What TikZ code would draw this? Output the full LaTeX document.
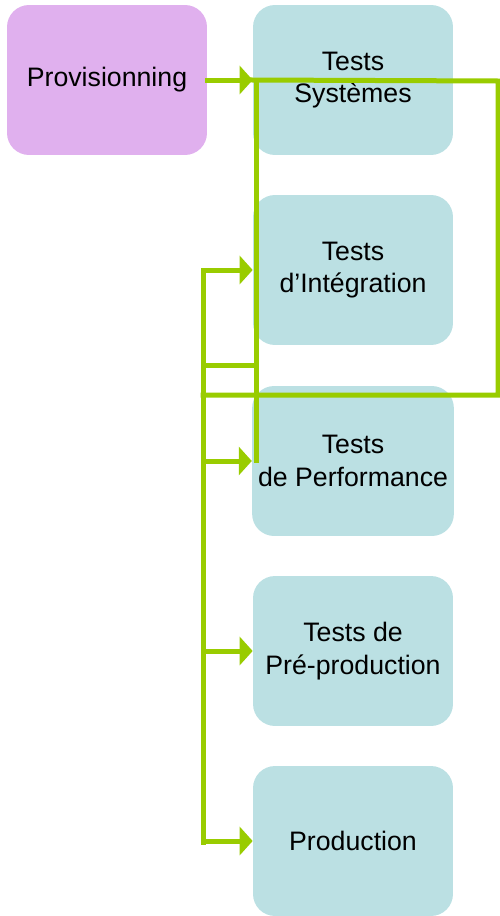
\documentclass[tikz,border=0pt]{standalone}
\usepackage{fontspec}
\setmainfont{Liberation Sans}
\usepackage{tikz}
\usetikzlibrary{arrows.meta}
\definecolor{provcol}{HTML}{E0B0EE}
\definecolor{testcol}{HTML}{BBE0E3}
\definecolor{linkcol}{HTML}{99CC00}
\tikzset{
	box/.style={rounded corners=0.44cm,minimum width=4cm,minimum height=3cm,align=center,font=\fontsize{15.2}{18.4}\selectfont},
	prov/.style={box,fill=provcol},
	test/.style={box,fill=testcol},
	link/.style={draw=linkcol,line width=0.1cm,line cap=rect},
	flow/.style={link,-{Triangle[length=0.26cm,width=0.56cm]}}
}
\begin{document}
\begin{tikzpicture}[x=0.02cm,y=-0.02cm]
			\useasboundingbox (0,0) rectangle (500,916);
			\node[prov] (prov) at (107,80) {Provisionning};
			\node[test] (sys) at (353,80) {Tests\\Systèmes};
			\node[test] (int) at (353,270) {Tests\\d’Intégration};
			\node[test] (perf) at (353,461) {Tests\\de Performance};
			\node[test] (pre) at (353,651) {Tests de\\Pré-production};
			\node[test] (prod) at (353,841) {Production};
			\coordinate (ra) at (498,81);
			\coordinate (rb) at (498,395);
			\coordinate (lb) at (203,395);
			\coordinate (ia) at (256,81);
			\coordinate (ib) at (256,460);
			\coordinate (la) at (203,270);
			\coordinate (lm) at (203,365);
			\coordinate (lz) at (203,842);
			\draw[flow] (prov.east) -- (sys.west);
			\draw[link] (sys.west) -- (ra) -- (rb) -- (lb);
			\draw[link] (ia) -- (ib);
			\draw[link] (la) -- (lz);
			\draw[link] (lm) -- (lm -| ia);
			\draw[flow] (la) -- (int.west);
			\draw[flow] (la |- perf) -- (perf.west);
			\draw[flow] (la |- pre) -- (pre.west);
			\draw[flow] (la |- prod) -- (prod.west);
		\end{tikzpicture}
\end{document}
